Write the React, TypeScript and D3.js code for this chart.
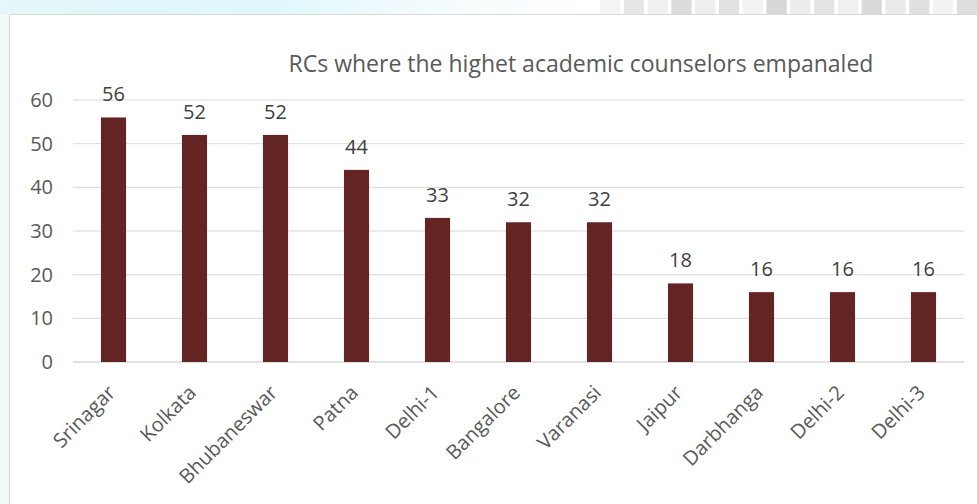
import React from "react";
import * as d3 from "d3";

const categories = ["Srinagar", "Kolkata", "Bhubaneswar", "Patna", "Delhi-1", "Bangalore", "Varanasi", "Jaipur", "Darbhanga", "Delhi-2", "Delhi-3"];
const counselors = [56, 52, 52, 44, 33, 32, 32, 18, 16, 16, 16];
const yTicks = [0, 10, 20, 30, 40, 50, 60];
const title = "RCs where the highet academic counselors empanaled";

// faded strip at the top of the slide (shades of grey)
const stripShades = ["#f4f4f4", "#e6e6e6", "#f0f0f0", "#dcdcdc", "#eeeeee", "#e2e2e2", "#f2f2f2", "#d8d8d8", "#ececec", "#e4e4e4", "#f0f0f0", "#dadada", "#eaeaea", "#e0e0e0", "#f3f3f3", "#dedede"];

const App: React.FC = () => {
  const width = 977,
    height = 504;
  const margin = { left: 73, right: 13, top: 100, bottom: 142 };

  const x = d3
    .scaleBand<string>()
    .domain(categories)
    .range([margin.left, width - margin.right])
    .paddingInner(0.69)
    .paddingOuter(0.345);

  const y = d3
    .scaleLinear()
    .domain([0, 60])
    .range([height - margin.bottom, margin.top]);

  const font = "'Open Sans', 'Noto Sans', sans-serif";
  const stripX = d3.scaleBand<number>().domain(d3.range(stripShades.length)).range([600, 977]).paddingInner(0.15);

  return (
    <svg width={width} height={height} style={{ position: "absolute", left: 0, top: 0 }}>
      <defs>
        <linearGradient id="sky" x1="0" x2="1" y1="0" y2="0">
          <stop offset="0" stopColor="#e4f6fa" />
          <stop offset="0.45" stopColor="#dff7fb" />
          <stop offset="0.75" stopColor="#f6fcfd" />
          <stop offset="1" stopColor="#ffffff" />
        </linearGradient>
      </defs>
      <rect width={width} height={height} fill="#ffffff" />
      {/* faded background strip */}
      <rect x={0} y={0} width={600} height={15} fill="url(#sky)" />
      <rect x={0} y={0} width={9} height={height} fill="#eaf7fa" opacity={0.6} />
      {stripShades.map((c, i) => (
        <rect key={i} x={stripX(i)} y={0} width={stripX.bandwidth()} height={14} fill={c} />
      ))}
      {/* chart frame */}
      <rect x={9.5} y={14.5} width={width} height={height} fill="#ffffff" stroke="#d9d9d9" strokeWidth={1} />

      <text x={581} y={72} textAnchor="middle" fontFamily={font} fontSize={23} fill="#595959">
        {title}
      </text>

      {/* gridlines and y labels */}
      {yTicks.map((t) => (
        <g key={t}>
          <line x1={margin.left} x2={width - margin.right} y1={y(t)} y2={y(t)} stroke="#d9d9d9" strokeWidth={t === 0 ? 1.5 : 1} />
          <text x={53} y={y(t)} dy="0.35em" textAnchor="end" fontFamily={font} fontSize={20} fill="#595959">
            {t}
          </text>
        </g>
      ))}

      {/* bars */}
      {categories.map((c, i) => (
        <g key={c}>
          <rect x={x(c)} y={y(counselors[i])} width={x.bandwidth()} height={y(0) - y(counselors[i])} fill="#632523" />
          <text x={(x(c) as number) + x.bandwidth() / 2} y={y(counselors[i]) - 16} textAnchor="middle" fontFamily={font} fontSize={20} fill="#404040">
            {counselors[i]}
          </text>
          <text
            transform={`translate(${(x(c) as number) + x.bandwidth() / 2 - 2},${y(0) + 27}) rotate(-45)`}
            textAnchor="end"
            dy="0.35em"
            fontFamily={font}
            fontSize={20}
            fill="#595959"
          >
            {c}
          </text>
        </g>
      ))}
    </svg>
  );
};

export default App;
